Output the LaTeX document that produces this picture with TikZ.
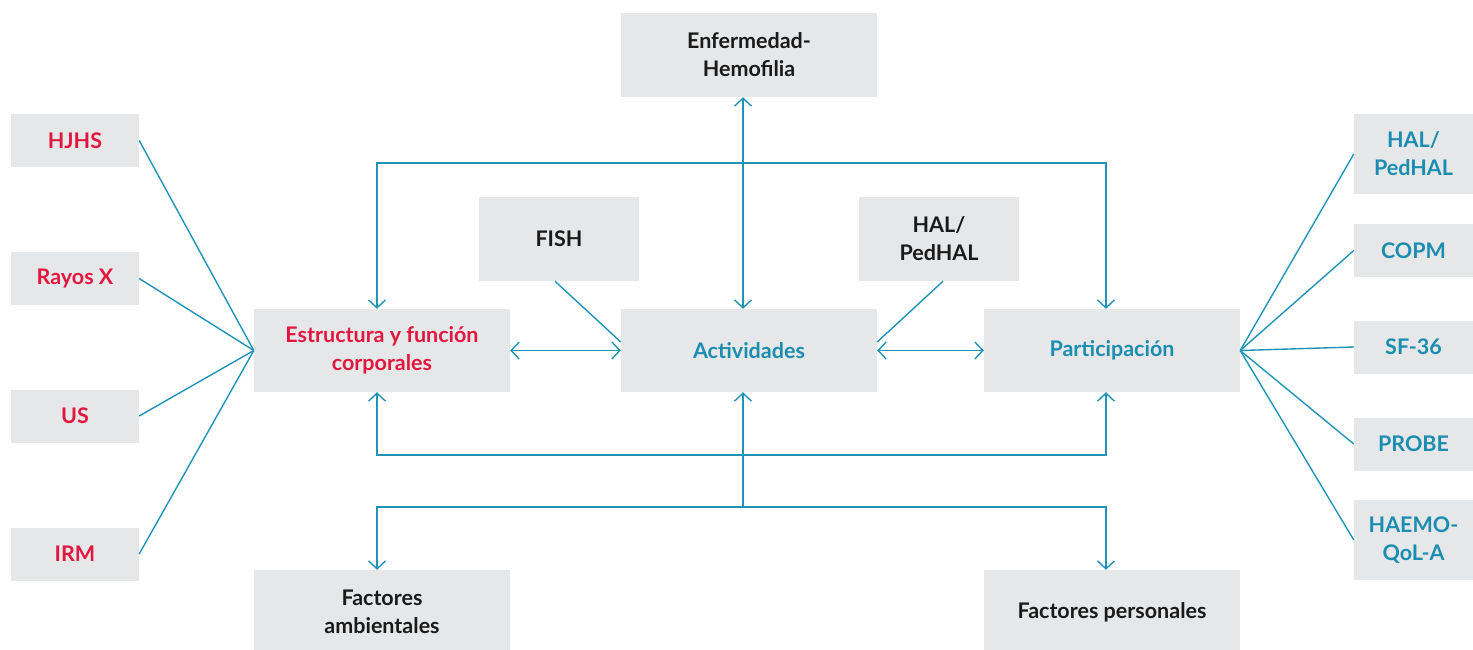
\documentclass[tikz,border=0pt]{standalone}
\usepackage{fontspec}
\setmainfont{Lato}
\usetikzlibrary{arrows.meta}
\definecolor{boxgray}{HTML}{E6E7E8}
\definecolor{lineteal}{HTML}{2094B8}
\definecolor{txtred}{HTML}{E2173F}
\definecolor{txtteal}{HTML}{1A8DB1}
\definecolor{txtblack}{HTML}{1A1A1A}
\begin{document}
\begin{tikzpicture}[x=1pt,y=-1pt,
  box/.style={fill=boxgray, inner sep=0pt, align=center, anchor=center,
    font=\bfseries\fontsize{21.5}{28}\selectfont, text=txtblack},
  redt/.style={text=txtred},
  tealt/.style={text=txtteal},
  conn/.style={draw=lineteal, line width=1.4pt},
  tip/.tip={Straight Barb[length=8pt,width=17pt,line width=1.4pt]},
  dbl/.style={conn, tip-tip},
  one/.style={conn, -tip}]
\useasboundingbox (0,0) rectangle (1473,649);

% main boxes
\node[box, minimum width=256pt, minimum height=84pt] (enf) at (749,55) {Enfermedad-\\Hemofilia};
\node[box, minimum width=256pt, minimum height=83pt, redt] (est) at (382,350.5) {Estructura y función\\corporales};
\node[box, minimum width=256pt, minimum height=83pt, tealt] (act) at (749,350.5) {Actividades};
\node[box, minimum width=256pt, minimum height=83pt, tealt] (par) at (1112,350.5) {Participación};
\node[box, minimum width=160pt, minimum height=84pt] (fish) at (559,239) {FISH};
\node[box, minimum width=160pt, minimum height=84pt] (hal) at (939,239) {HAL/\\PedHAL};
\node[box, minimum width=256pt, minimum height=84pt] (fam) at (382,612) {Factores\\ambientales};
\node[box, minimum width=256pt, minimum height=84pt] (fper) at (1112,612) {Factores personales};

% left boxes
\node[box, minimum width=128pt, minimum height=53pt, redt] (hjhs) at (75,140.5) {HJHS};
\node[box, minimum width=128pt, minimum height=53pt, redt] (rayos) at (75,278.5) {Rayos X};
\node[box, minimum width=128pt, minimum height=53pt, redt] (us) at (75,416) {US};
\node[box, minimum width=128pt, minimum height=53pt, redt] (irm) at (75,554) {IRM};

% right boxes
\node[box, minimum width=119pt, minimum height=80pt, tealt] (rhal) at (1413.5,154) {HAL/\\PedHAL};
\node[box, minimum width=119pt, minimum height=53pt, tealt] (copm) at (1413.5,250.5) {COPM};
\node[box, minimum width=119pt, minimum height=53pt, tealt] (sf) at (1413.5,347) {SF-36};
\node[box, minimum width=119pt, minimum height=53pt, tealt] (probe) at (1413.5,444) {PROBE};
\node[box, minimum width=119pt, minimum height=80pt, tealt] (haemo) at (1413.5,540) {HAEMO-\\QoL-A};

% routing coordinates
\coordinate (cv) at (743,0);
\coordinate (tl) at (377,163);
\coordinate (tr) at (1106,163);
\coordinate (bl) at (377,455);
\coordinate (br) at (1106,455);
\coordinate (bm) at (743,507);
\coordinate (fl) at (377,507);
\coordinate (fr) at (1106,507);

% connectors
\draw[dbl] (enf.south -| cv) -- (act.north -| cv);
\draw[dbl] (est.north -| tl) -- (tl) -- (tr) -- (par.north -| tr);
\draw[dbl] (est.south -| bl) -- (bl) -- (br) -- (par.south -| br);
\draw[one] (bm) -- (act.south -| bm);
\draw[dbl] (fam.north -| fl) -- (fl) -- (fr) -- (fper.north -| fr);
\draw[dbl] (est.east) -- (act.west);
\draw[dbl] (act.east) -- (par.west);
\draw[conn] ([xshift=-4pt]fish.south) -- ([yshift=8.5pt]act.west);
\draw[conn] ([xshift=4pt]hal.south) -- ([yshift=8.5pt]act.east);

\foreach \n in {hjhs,rayos,us,irm} \draw[conn] (\n.east) -- (est.west);
\foreach \n in {rhal,copm,sf,probe,haemo} \draw[conn] (par.east) -- (\n.west);
\end{tikzpicture}
\end{document}
